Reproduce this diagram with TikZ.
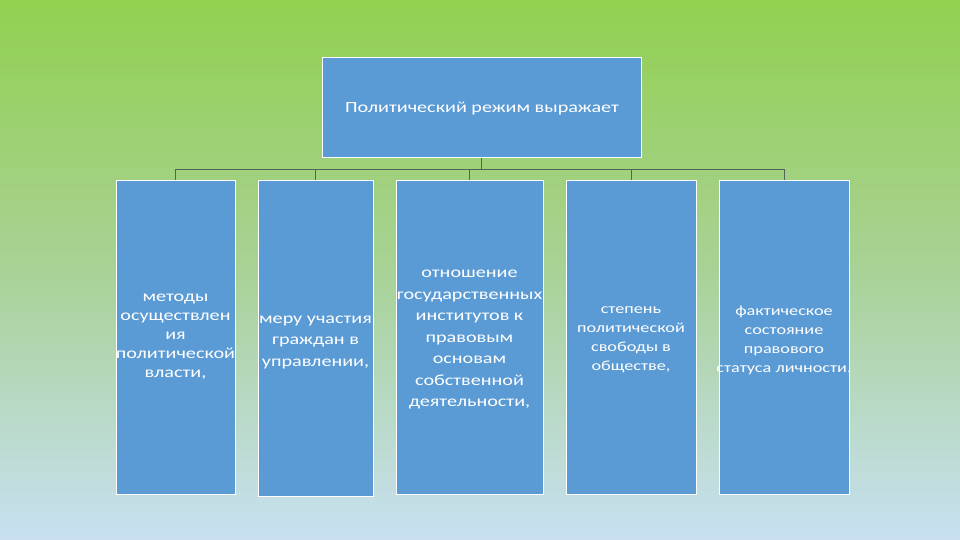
\documentclass[tikz,border=0pt]{standalone}
\usepackage{fontspec}
\setmainfont{Carlito}[FakeStretch=1.3]
\definecolor{bgtop}{RGB}{146,208,80}
\definecolor{bgmid}{RGB}{168,210,150}
\definecolor{bgbot}{RGB}{200,224,242}
\definecolor{boxfill}{RGB}{91,155,213}
\definecolor{linecol}{RGB}{80,100,90}
\begin{document}
\begin{tikzpicture}[x=1pt,y=-1pt,
  box/.style={draw=white,line width=1pt,fill=boxfill,inner sep=0pt,text=white,align=center},
  small/.style={font=\fontsize{14}{19}\selectfont},
  mid/.style={font=\fontsize{15.5}{19}\selectfont},
  big/.style={font=\fontsize{15.5}{21.5}\selectfont},
  conn/.style={draw=linecol,line width=0.6pt}]
\shade[top color=bgtop,bottom color=bgbot,middle color=bgmid] (0,0) rectangle (960,540);
\useasboundingbox (0,0) rectangle (960,540);
\node[box,minimum width=319pt,minimum height=100pt] (top) at (481.5,108) {};
\node[font=\fontsize{15.5}{18}\selectfont,text=white] (tt) at (482,109) {Политический режим выражает};
\node[box,minimum width=119pt,minimum height=313pt] (b1) at (175.5,337.5) {};
\node[box,minimum width=115pt,minimum height=315pt] (b2) at (315.5,338.5) {};
\node[box,minimum width=147pt,minimum height=313pt] (b3) at (469.5,337.5) {};
\node[box,minimum width=130pt,minimum height=313pt] (b4) at (631,337.5) {};
\node[box,minimum width=130pt,minimum height=313pt] (b5) at (784,337.5) {};
\node[mid,text=white,align=center] (t1) at (175.5,337) {методы\\осуществлен\\ия\\политической\\власти,};
\node[big,text=white,align=center] (t2) at (315.5,342) {меру участия\\граждан в\\управлении,};
\node[big,text=white,align=center] (t3) at (469.5,340) {отношение\\государственных\\институтов к\\правовым\\основам\\собственной\\деятельности,};
\node[small,text=white,align=center] (t4) at (631,340) {степень\\политической\\свободы в\\обществе,};
\node[small,text=white,align=center] (t5) at (784,340) {фактическое\\состояние\\правового\\статуса личности.};
\coordinate (hub) at (top.south |- 0,169.5);
\draw[conn] (top.south) -- (hub);
\draw[conn] (b1.north |- hub) -- (b5.north |- hub);
\foreach \b in {b1,b2,b3,b4,b5} \draw[conn] (\b.north |- hub) -- (\b.north);
\end{tikzpicture}
\end{document}
